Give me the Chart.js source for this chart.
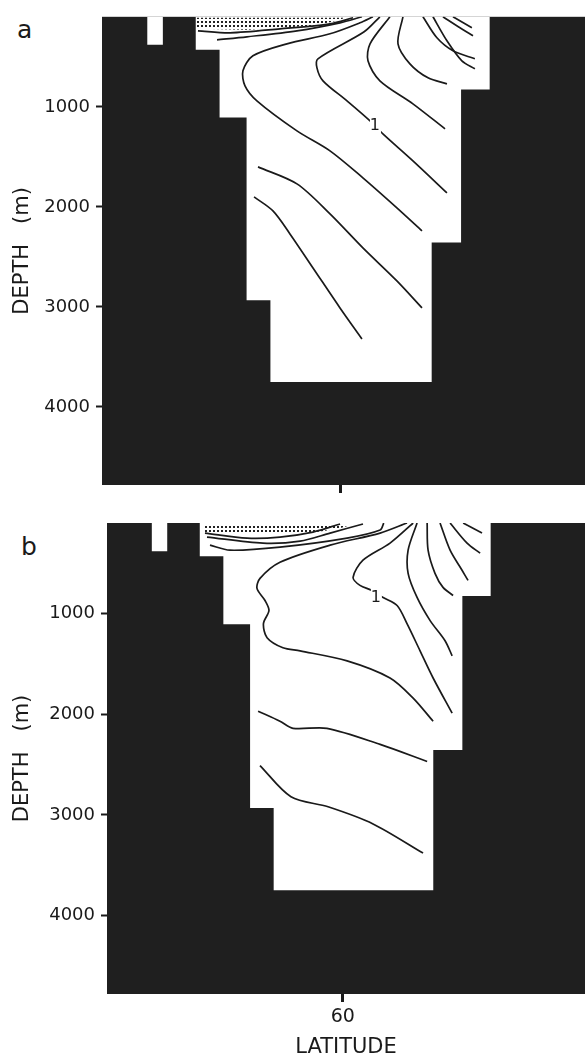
<!DOCTYPE html>
<html>
<head>
<meta charset="UTF-8">
<title>Depth - latitude sections</title>
<script src="https://cdn.jsdelivr.net/npm/chart.js"></script>
<style>
  html, body { margin: 0; padding: 0; background: #fff; overflow: hidden; }
  body { width: 585px; height: 1057px; position: relative; font-family: "DejaVu Sans", sans-serif; color: #1a1a1a; }
  canvas { position: absolute; left: 0; }
  #cA { top: 0; }
  #cB { top: 505px; }
  .panel { position: absolute; font-size: 25px; line-height: 25px; }
</style>
</head>
<body>
<div class="panel" style="left:17px; top:17px">a</div>
<div class="panel" style="left:21px; top:534px">b</div>
<canvas id="cA" width="585" height="505"></canvas>
<canvas id="cB" width="585" height="552"></canvas>

<script>
  // axes
  const latTicks = [60];
  const depthTicks = [1000, 2000, 3000, 4000];

  // basin outline (latitude, depth m), same grid in both panels
  const basinLat   = [50.9, 69.4, 69.4, 67.6, 67.6, 65.75, 65.75, 55.6, 55.6, 54.1, 54.1, 52.4, 52.4, 50.9];
  const basinDepth = [100, 100, 826, 826, 2355, 2355, 3750, 3750, 2933, 2933, 1106, 1106, 430, 430];
  const boxLat   = [47.85, 48.83, 48.83, 47.85];
  const boxDepth = [100, 100, 380, 380];

  // panel a: stippled surface lens and contours [lat, depth]
  const stippleA = [[50.98, 110], [60.3, 110], [59.79, 140], [58.28, 190], [54.12, 230], [50.98, 220]];
  const contoursA = [
    [[51.04, 240], [53.06, 260], [56.20, 220], [59.35, 170], [60.80, 110]],
    [[52.24, 330], [54.12, 300], [57.27, 240], [59.98, 160], [61.36, 100]],
    [[62.05, 100], [61.24, 160], [59.35, 270], [56.64, 370], [54.50, 490], [53.87, 640], [54.00, 790],
     [54.75, 940], [57.27, 1240], [59.35, 1440], [61.42, 1710], [63.56, 2010], [65.14, 2240]],
    [[62.49, 100], [61.5, 250], [58.59, 520], [58.53, 610], [58.91, 740], [60.42, 940], [61.87, 1140],
     [62.68, 1270], [64.57, 1540], [66.71, 1860]],
    [[63.12, 100], [61.87, 370], [61.74, 540], [62.49, 740], [64.57, 970], [66.59, 1220]],
    [[63.94, 100], [63.63, 370], [64.38, 570], [65.52, 710], [66.71, 770]],
    [[65.20, 100], [66.08, 310], [67.09, 440], [68.47, 520]],
    [[65.83, 100], [66.71, 340], [67.65, 540], [68.47, 620]],
    [[66.46, 100], [67.53, 210], [68.35, 290]],
    [[67.09, 100], [68.28, 210]],
    [[54.82, 1600], [57.27, 1770], [59.35, 2070], [61.42, 2410], [63.56, 2740], [65.14, 3010]],
    [[54.57, 1900], [55.76, 2040], [56.83, 2270], [58.28, 2610], [59.98, 3010], [61.36, 3320]]
  ];
  const labelA = [62.18, 1190];

  // panel b
  const stippleB = [[51.11, 130], [60.3, 130], [59.63, 160], [58.10, 195], [51.11, 205]];
  const contoursB = [
    [[51.23, 200], [53.91, 250], [56.0, 240], [58.10, 190], [59.82, 110]],
    [[51.36, 240], [54.92, 300], [57.28, 280], [59.19, 200], [61.28, 110]],
    [[51.55, 320], [52.82, 370], [56.0, 340], [60.27, 250], [62.37, 170], [62.6, 100]],
    [[64.08, 100], [62.37, 200], [59.19, 320], [56.00, 490], [54.73, 650], [54.54, 750], [55.05, 870],
     [55.30, 970], [54.95, 1100], [55.18, 1240], [56.19, 1340], [57.28, 1370], [60.27, 1470],
     [63.00, 1640], [64.47, 1840], [65.74, 2070]],
    [[64.47, 100], [63.00, 300], [61.28, 470], [60.65, 640], [61.09, 720], [61.86, 770], [62.56, 840],
     [63.45, 920], [64.08, 1100], [64.91, 1370], [65.74, 1640], [66.95, 1990]],
    [[64.72, 100], [64.15, 370], [64.15, 600], [64.72, 840], [65.55, 1070], [66.50, 1270], [66.95, 1420]],
    [[65.36, 100], [65.42, 370], [65.86, 600], [66.37, 740], [67.01, 820]],
    [[66.18, 100], [66.82, 370], [67.58, 570], [67.96, 670]],
    [[66.82, 100], [67.90, 300], [68.73, 400]],
    [[67.65, 100], [68.85, 200]],
    [[54.61, 1970], [56.0, 2070], [56.83, 2140], [58.99, 2140], [62.37, 2300], [65.36, 2470]],
    [[54.73, 2510], [56.70, 2820], [59.06, 2920], [61.92, 3090], [65.10, 3380]]
  ];
  const labelB = [62.1, 840];

  const pts = arr => arr.map(p => ({ x: p[0], y: p[1] }));
  const zip = (a, b) => a.map((v, i) => [v, b[i]]);

  function stipplePattern() {
    const c = document.createElement('canvas');
    c.width = 4; c.height = 4;
    const g = c.getContext('2d');
    g.fillStyle = '#222';
    g.fillRect(1, 1, 2, 2);
    return g.createPattern(c, 'repeat');
  }

  // black sea floor behind everything + contour label
  const sectionPlugin = {
    id: 'section',
    beforeDatasetsDraw(chart) {
      const { ctx, chartArea: a } = chart;
      ctx.save();
      ctx.fillStyle = '#1f1f1f';
      ctx.fillRect(a.left, a.top, a.right - a.left, a.bottom - a.top);
      ctx.restore();
    },
    afterDatasetsDraw(chart, args, opts) {
      const { ctx } = chart;
      const x = chart.scales.x.getPixelForValue(opts.at[0]);
      const y = chart.scales.y.getPixelForValue(opts.at[1]);
      ctx.save();
      ctx.fillStyle = '#fff';
      ctx.fillRect(x - 5, y - 9, 11, 18);
      ctx.fillStyle = '#1a1a1a';
      ctx.font = '16px "DejaVu Sans"';
      ctx.textAlign = 'center';
      ctx.textBaseline = 'middle';
      ctx.fillText('1', x, y);
      ctx.restore();
    }
  };

  function makePanel(id, o) {
    const pattern = stipplePattern();
    const datasets = [
      { data: pts(zip(basinLat, basinDepth)), fill: 'shape', backgroundColor: '#fff',
        borderColor: 'rgba(0,0,0,0)', borderWidth: 0, order: 10 },
      { data: pts(zip(boxLat, boxDepth)), fill: 'shape', backgroundColor: '#fff',
        borderColor: 'rgba(0,0,0,0)', borderWidth: 0, order: 10 },
      { data: pts(o.stipple), fill: 'shape', backgroundColor: pattern,
        borderColor: 'rgba(0,0,0,0)', borderWidth: 0, order: 5 }
    ];
    o.contours.forEach(c => datasets.push({
      data: pts(c), fill: false, borderColor: '#1a1a1a', borderWidth: 1.7, tension: 0.3, order: 1
    }));
    datasets.forEach(d => { d.showLine = true; d.pointRadius = 0; });

    return new Chart(document.getElementById(id), {
      type: 'scatter',
      data: { datasets },
      plugins: [sectionPlugin],
      options: {
        responsive: false,
        animation: false,
        devicePixelRatio: 1,
        layout: { padding: { top: o.top, left: 0, right: 0, bottom: 0 } },
        plugins: {
          legend: { display: false },
          tooltip: { enabled: false },
          section: { at: o.label }
        },
        scales: {
          x: {
            type: 'linear', min: 45, max: 75.4,
            afterBuildTicks: s => { s.ticks = latTicks.map(v => ({ value: v })); },
            afterFit: s => { s.height = o.xh; },
            border: { display: false },
            grid: { drawOnChartArea: false, tickLength: 8, tickWidth: 3, tickColor: '#1a1a1a' },
            ticks: {
              padding: 4, color: '#1a1a1a', maxRotation: 0,
              font: { family: 'DejaVu Sans', size: 19 },
              callback: v => o.xLabels ? String(v) : ''
            },
            title: {
              display: o.xLabels, text: 'LATITUDE', color: '#1a1a1a',
              font: { family: 'DejaVu Sans', size: 21, lineHeight: 1 },
              padding: { top: 0, bottom: -1 }
            }
          },
          y: {
            type: 'linear', reverse: true, min: 100, max: 4780,
            afterBuildTicks: s => { s.ticks = depthTicks.map(v => ({ value: v })); },
            afterFit: s => { s.width = o.yw; },
            border: { display: false },
            grid: { drawOnChartArea: false, tickLength: 6, tickWidth: 2, tickColor: '#1a1a1a' },
            ticks: {
              padding: 6, color: '#1a1a1a',
              font: { family: 'DejaVu Sans', size: 18 },
              callback: v => String(v)
            },
            title: {
              display: true, text: 'DEPTH   (m)', color: '#1a1a1a',
              font: { family: 'DejaVu Sans', size: 21, lineHeight: 1 },
              padding: { top: 12, bottom: 0 }
            }
          }
        }
      }
    });
  }

  makePanel('cA', { stipple: stippleA, contours: contoursA, label: labelA, top: 16, xh: 20, yw: 102, xLabels: false });
  makePanel('cB', { stipple: stippleB, contours: contoursB, label: labelB, top: 18, xh: 63, yw: 107, xLabels: true });
</script>
</body>
</html>
